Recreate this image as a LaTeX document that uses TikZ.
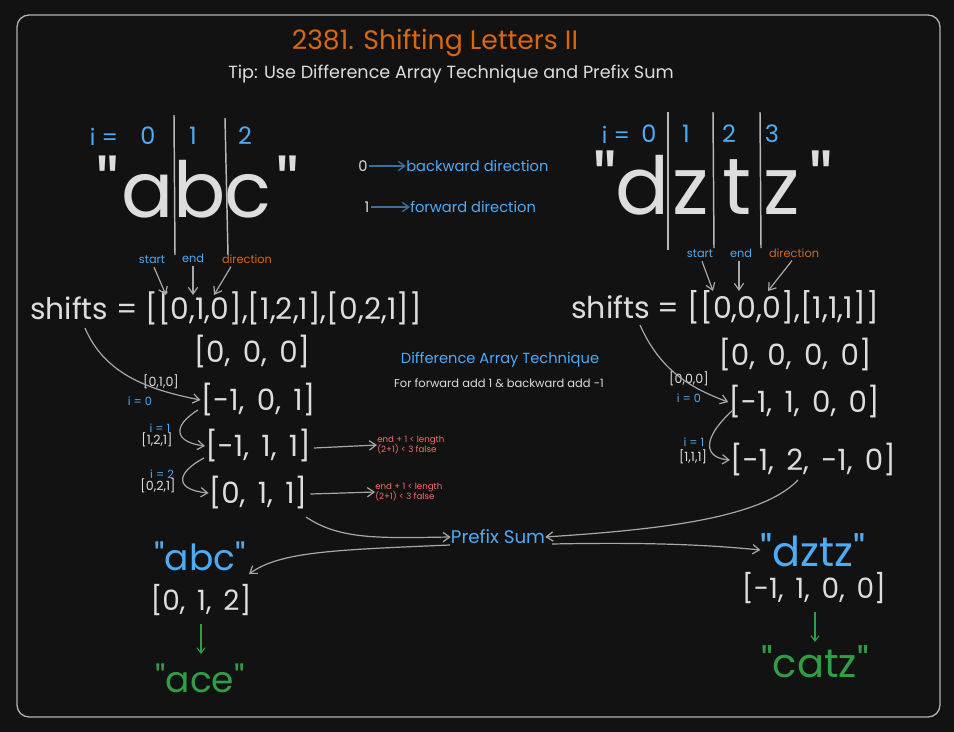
\documentclass[tikz,border=0pt]{standalone}
\usepackage{fontspec}
\newfontfamily\pop{Poppins}
\setmainfont{Poppins}
\usetikzlibrary{arrows.meta}
\definecolor{bgc}{HTML}{121212}
\definecolor{wt}{HTML}{DDDDDD}
\definecolor{bl}{HTML}{4DABF7}
\definecolor{org}{HTML}{D9670F}
\definecolor{rd}{HTML}{FF6B6B}
\definecolor{gr}{HTML}{2F9E44}
\definecolor{ln}{HTML}{A8A8A8}
\definecolor{dbl}{HTML}{3D6E9A}
\newdimen\pxu \pxu=0.75pt
\newcommand{\fs}[1]{\pop\fontsize{#1}{#1}\selectfont}
\newcommand{\ws}[1]{\pop\fontsize{#1}{#1}\selectfont\spaceskip=0.42em plus 0.1em}
\newcommand{\cell}[2]{\makebox[#1\pxu][c]{#2}}
\tikzset{
  txt/.style={inner sep=0pt, text=wt, anchor=center},
  bltxt/.style={txt, text=bl},
  arr/.style={draw=ln, line width=0.9pt, -{Straight Barb[length=5pt,width=7pt]}},
  vline/.style={draw=ln!80, line width=1.1pt},
  garr/.style={draw=gr, line width=0.8pt, -{Straight Barb[length=4pt,width=6pt]}},
}
\begin{document}
\begin{tikzpicture}[x=0.75pt,y=-0.75pt]
\fill[bgc] (0,0) rectangle (954,732);
\useasboundingbox (0,0) rectangle (954,732);
\draw[ln!90!white, line width=1pt, rounded corners=9pt] (17,15) rectangle (940,717);

% title
\node[txt, text=org, font=\fs{20}] (title) at (435,43) {2381. Shifting Letters II};
\node[txt, font=\fs{13.2}] (tip) at (451,74) {Tip: Use Difference Array Technique and Prefix Sum};

% left big word
\node[bltxt, font=\fs{17}] (ieqL) at (104,137) {i =};
\node[bltxt, font=\fs{18}] (iL0) at (148,136) {0};
\node[bltxt, font=\fs{18}] (iL1) at (193,136) {1};
\node[bltxt, font=\fs{18}] (iL2) at (245,136) {2};
\node[txt, font=\fs{58}, anchor=base west] (abc) at (95,217) {\cell{25}{"}\cell{54}{a}\cell{51}{b}\cell{45}{c}\cell{35}{"}};
\coordinate (vL1a) at (174,115); \coordinate (vL1b) at (175,255);
\coordinate (vL2a) at (225,118); \coordinate (vL2b) at (228,255);
\draw[vline] (vL1a) -- (vL1b);
\draw[vline] (vL2a) -- (vL2b);
\node[bltxt, font=\fs{8.5}] (stL) at (152,260) {start};
\node[bltxt, font=\fs{8.5}] (enL) at (193,258) {end};
\node[txt, text=org, font=\fs{8.5}] (diL) at (247,259) {direction};

\node[txt, font=\fs{22.3}] (shL) at (226,308) {shifts = [[0,1,0],[1,2,1],[0,2,1]]};
\coordinate (sL1) at (166,295); \coordinate (sL2) at (193,295); \coordinate (sL3) at (214,295);
\draw[arr] (stL.south) ++(2,3) -- (sL1);
\draw[arr] (enL.south) ++(0,3) -- (sL2);
\draw[arr] (diL.south) ++(-16,3) -- (sL3);

\node[txt, font=\ws{22}] (z3) at (252,352) {[0, 0, 0]};
\node[txt, font=\ws{22}] (a1) at (258,400) {[-1, 0, 1]};
\node[txt, font=\ws{22}] (a2) at (258,446) {[-1, 1, 1]};
\node[txt, font=\ws{22}] (a3) at (258,493) {[0, 1, 1]};

\node[txt, font=\fs{9.5}] (q1) at (161,382) {[0,1,0]};
\node[bltxt, font=\fs{8.5}] (i0) at (140,401) {i = 0};
\node[bltxt, font=\fs{8.5}] (i1) at (160,428) {i = 1};
\node[txt, font=\fs{9.5}] (q2) at (157,440) {[1,2,1]};
\node[bltxt, font=\fs{8.5}] (i2) at (162,474) {i = 2};
\node[txt, font=\fs{9.5}] (q3) at (158,486) {[0,2,1]};

\coordinate (cL0) at (85,328);
\draw[arr] (cL0) .. controls (105,375) and (150,390) .. (a1.west);
\coordinate (cL1) at (198,410);
\draw[arr] (cL1) .. controls (172,426) and (174,442) .. (a2.west);
\coordinate (cL2) at (204,458);
\draw[arr] (cL2) .. controls (174,474) and (176,490) .. (a3.west);

\node[txt, text=rd, font=\fs{6.5}, align=left, anchor=west] (r1) at (377,445) {end + 1 < length\\[-1pt](2+1) < 3 false};
\node[txt, text=rd, font=\fs{6.5}, align=left, anchor=west] (r2) at (375,492) {end + 1 < length\\[-1pt](2+1) < 3 false};
\draw[arr] (a2.east) ++(3,2) -- (r1.west);
\draw[arr] (a3.east) ++(3,1) -- (r2.west);

% direction legend
\node[txt, font=\fs{11}] (d0) at (363,166) {0};
\node[bltxt, font=\fs{11}, anchor=west] (d0t) at (406,166) {backward direction};
\node[txt, font=\fs{11}] (d1) at (367,207) {1};
\node[bltxt, font=\fs{11}, anchor=west] (d1t) at (410,207) {forward direction};
\draw[draw=dbl, line width=1pt, -{Straight Barb[length=5pt,width=7pt]}] (d0.east) ++(1,0) -- (d0t.west);
\draw[draw=dbl, line width=1pt, -{Straight Barb[length=5pt,width=7pt]}] (d1.east) ++(1,0) -- (d1t.west);

% difference array text
\node[bltxt, font=\fs{11}] (dat) at (500,360) {Difference Array Technique};
\node[txt, font=\fs{8.6}] (dat2) at (499,383) {For forward add 1 \& backward add -1};

% right big word
\node[bltxt, font=\fs{17}] (ieqR) at (616,135) {i =};
\node[bltxt, font=\fs{18}] (iR0) at (649,134) {0};
\node[bltxt, font=\fs{18}] (iR1) at (686,134) {1};
\node[bltxt, font=\fs{18}] (iR2) at (729,134) {2};
\node[bltxt, font=\fs{18}] (iR3) at (772,134) {3};
\node[txt, font=\fs{60}, anchor=base west] (dztz) at (594,214) {\cell{22}{"}\cell{52}{d}\cell{45}{z}\cell{47}{t}\cell{42}{z}\cell{38}{"}};
\coordinate (vR1a) at (668,112); \coordinate (vR1b) at (668,250);
\coordinate (vR2a) at (713,112); \coordinate (vR2b) at (714,248);
\coordinate (vR3a) at (760,112); \coordinate (vR3b) at (761,248);
\draw[vline] (vR1a) -- (vR1b);
\draw[vline] (vR2a) -- (vR2b);
\draw[vline] (vR3a) -- (vR3b);
\node[bltxt, font=\fs{8.5}] (stR) at (700,254) {start};
\node[bltxt, font=\fs{8.5}] (enR) at (741,253) {end};
\node[txt, text=org, font=\fs{8.5}] (diR) at (794,253) {direction};
\node[txt, font=\fs{22.5}] (shR) at (725,307) {shifts = [[0,0,0],[1,1,1]]};
\coordinate (sR1) at (713,291); \coordinate (sR2) at (739,291); \coordinate (sR3) at (768,291);
\draw[arr] (stR.south) ++(2,3) -- (sR1);
\draw[arr] (enR.south) ++(-2,3) -- (sR2);
\draw[arr] (diR.south) ++(-2,3) -- (sR3);

\node[txt, font=\ws{22}] (z4) at (795,355) {[0, 0, 0, 0]};
\node[txt, font=\ws{22}] (b1) at (804,402) {[-1, 1, 0, 0]};
\node[txt, font=\ws{22}] (b2) at (813,460) {[-1, 2, -1, 0]};
\node[txt, font=\fs{9.5}] (p1) at (689,379) {[0,0,0]};
\node[bltxt, font=\fs{8.5}] (j0) at (689,398) {i = 0};
\node[bltxt, font=\fs{8.5}] (j1) at (694,442) {i = 1};
\node[txt, font=\fs{9.5}] (p2) at (693,457) {[1,1,1]};
\coordinate (cR0) at (640,325);
\draw[arr] (cR0) .. controls (660,370) and (690,388) .. (b1.west);
\coordinate (cR1) at (733,410);
\draw[arr] (cR1) .. controls (700,440) and (705,458) .. (b2.west);

% prefix sum
\node[bltxt, font=\fs{13.7}] (ps) at (498,537) {Prefix Sum};
\coordinate (a3s) at (306,517);
\draw[arr] (a3s) .. controls (340,540) and (380,538) .. (ps.west);
\coordinate (b2s) at (798,480);
\draw[arr] (b2s) .. controls (760,520) and (650,530) .. (ps.east);
\coordinate (psl) at (450,545);
\coordinate (psr) at (552,544);

% results
\node[bltxt, font=\fs{27}] (rabc) at (200,556) {"abc"};
\node[txt, font=\ws{21}] (v1) at (201,600) {[0, 1, 2]};
\node[txt, text=gr, font=\fs{27}] (ace) at (200,678) {"ace"};
\coordinate (abcend) at (249,574);
\draw[arr] (psl) .. controls (330,550) and (280,552) .. (abcend);
\draw[garr] (v1.south) ++(0,8) -- ++(0,30) coordinate (g1);

\node[bltxt, font=\fs{31}] (rdztz) at (813,550) {"dztz"};
\node[txt, font=\ws{21}] (v2) at (814,588) {[-1, 1, 0, 0]};
\node[txt, text=gr, font=\fs{30}] (catz) at (815,662) {"catz"};
\draw[arr] (psr) .. controls (650,542) and (710,545) .. (rdztz.west);
\draw[garr] (v2.south) ++(1,8) -- ++(0,30) coordinate (g2);
\end{tikzpicture}
\end{document}
